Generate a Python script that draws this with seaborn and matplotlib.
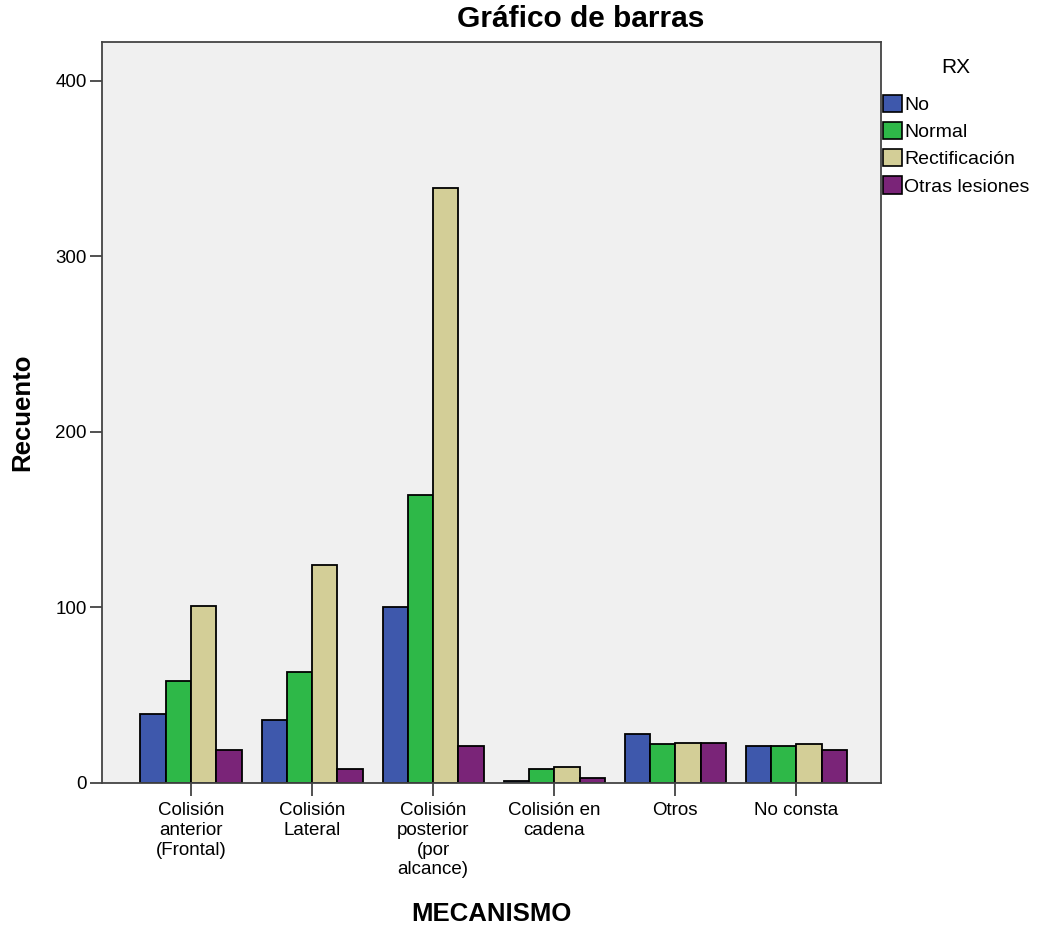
import pandas as pd
import matplotlib
matplotlib.use('Agg')
import matplotlib.pyplot as plt
import seaborn as sns
from matplotlib.patches import Patch

# data
mecanismos = ['Colisión\nanterior\n(Frontal)', 'Colisión\nLateral', 'Colisión\nposterior\n(por\nalcance)',
              'Colisión en\ncadena', 'Otros', 'No consta']
rx_groups = ['No', 'Normal', 'Rectificación', 'Otras lesiones']
no_vals = [39, 36, 100, 1, 28, 21]
normal_vals = [58, 63, 164, 8, 22, 21]
rectif_vals = [101, 124, 339, 9, 23, 22]
otras_vals = [19, 8, 21, 3, 23, 19]
colors = ['#3e58ac', '#2eb848', '#d3ce97', '#7a2478']

series = [no_vals, normal_vals, rectif_vals, otras_vals]
rows = []
for grp, vals in zip(rx_groups, series):
    for m, v in zip(mecanismos, vals):
        rows.append({'MECANISMO': m, 'RX': grp, 'Recuento': v})
df = pd.DataFrame(rows)

sns.set_style('ticks')
plt.rcParams['font.family'] = ['Liberation Sans', 'DejaVu Sans']
plt.rcParams['text.color'] = 'black'
plt.rcParams['axes.labelcolor'] = 'black'
plt.rcParams['xtick.labelcolor'] = 'black'
plt.rcParams['ytick.labelcolor'] = 'black'

fig = plt.figure(figsize=(10.44, 9.31), dpi=100)
ax = fig.add_axes([0.0977, 0.159, 0.7463, 0.796])
ax.set_facecolor('#f0f0f0')

sns.barplot(data=df, x='MECANISMO', y='Recuento', hue='RX', order=mecanismos,
            hue_order=rx_groups, palette=colors, width=0.835, edgecolor='black',
            linewidth=1.3, saturation=1, ax=ax, legend=False)

ax.set_xlim(-0.735, 5.70)
ax.set_ylim(0, 422)
ax.set_yticks([0, 100, 200, 300, 400])
ax.tick_params(axis='both', labelsize=13.5, length=9, width=1.2, color='#333333', pad=2)
ax.tick_params(axis='x', pad=5)
for lab in ax.get_xticklabels():
    lab.set_linespacing(1.2)
for s in ax.spines.values():
    s.set_color('#444444')
    s.set_linewidth(1.3)

# title sits right of the axes centre, as in the original
ax.set_title('Gráfico de barras', fontsize=21.5, fontweight='bold', pad=11, x=0.615)
ax.set_ylabel('Recuento', fontsize=18.5, fontweight='bold', labelpad=15)
ax.set_xlabel('MECANISMO', fontsize=18.5, fontweight='bold', labelpad=17)

handles = [Patch(facecolor=c, edgecolor='black', linewidth=1.2) for c in colors]
leg = fig.legend(handles, rx_groups, title='RX', loc='upper left',
                 bbox_to_anchor=(0.8455, 0.938), frameon=False, fontsize=14,
                 title_fontsize=15, handlelength=1.0, handleheight=1.0,
                 handletextpad=0.1, labelspacing=0.4, borderaxespad=0,
                 borderpad=0)
leg._legend_box.align = 'center'
leg._legend_box.sep = 13

fig.savefig('out.png', dpi=100)
